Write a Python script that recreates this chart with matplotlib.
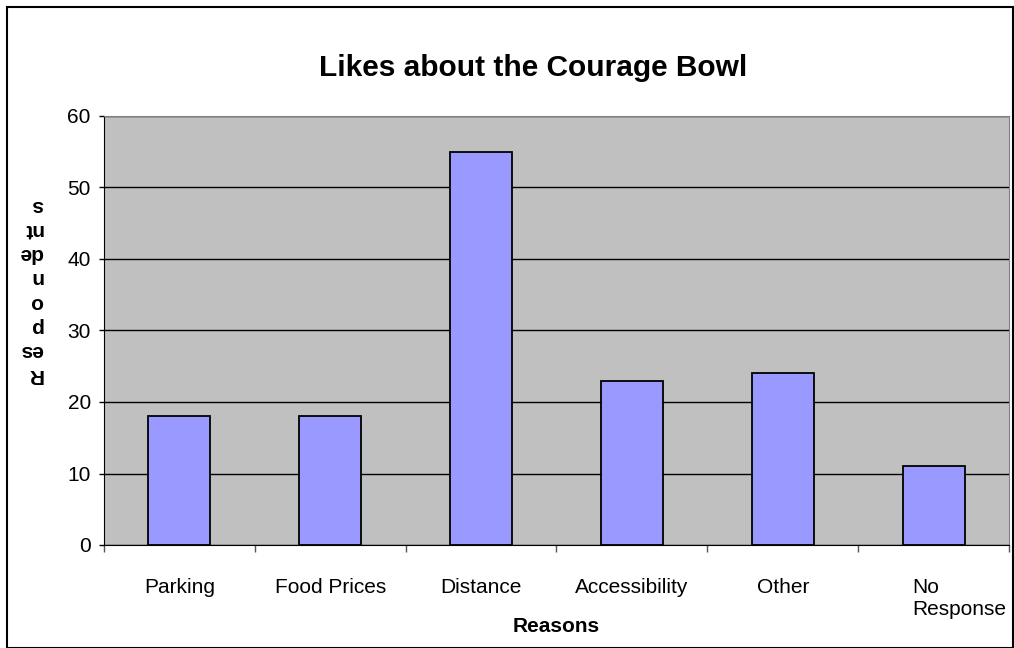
import matplotlib
matplotlib.use("Agg")
import matplotlib.pyplot as plt
from matplotlib.patches import Rectangle
import matplotlib.transforms as mtransforms
import numpy as np

categories = ["Parking", "Food Prices", "Distance", "Accessibility", "Other", "No\nResponse"]
values = [18, 18, 55, 23, 24, 11]
yticks = [0, 10, 20, 30, 40, 50, 60]

plt.rcParams['font.family'] = ['Liberation Sans', 'DejaVu Sans']

fig = plt.figure(figsize=(10.14, 6.48), dpi=100)
ax = fig.add_axes([104/1014, 1-545/648, (1009-104)/1014, (545-116)/648])
ax.set_facecolor('#C0C0C0')

x = np.arange(len(categories))
ax.bar(x, values, width=0.41, color='#9999FF', edgecolor='black', linewidth=1.3, zorder=3)

ax.set_xlim(-0.5, len(categories) - 0.5)
ax.set_ylim(0, 60)
ax.set_yticks(yticks)
ax.yaxis.grid(True, color='black', linewidth=1.0, zorder=1)
ax.set_axisbelow(True)
ax.tick_params(axis='y', direction='out', length=3.5, width=1, labelsize=15, pad=6)

ax.set_xticks(x)
labels = ax.set_xticklabels(categories)
ax.tick_params(axis='x', which='major', length=0, labelsize=15, pad=24)
ax.set_xticks(np.arange(len(categories) + 1) - 0.5, minor=True)
ax.tick_params(axis='x', which='minor', direction='out', length=5, width=1, color='#555555')
last = labels[-1]
last.set_ha('left')
last.set_multialignment('left')
last.set_transform(last.get_transform() + mtransforms.ScaledTranslation(-0.216, 0, fig.dpi_scale_trans))

for s in ['top', 'right']:
    ax.spines[s].set_color('#808080')
for s in ['left', 'bottom']:
    ax.spines[s].set_color('black')

fig.text(556/1014, 1-627/648, "Reasons", fontsize=15, fontweight='bold', ha='center', va='center')
fig.text(43/1014, 1-290/648, "R\nes\np\no\nn\nde\nnt\ns", rotation=180, fontsize=15,
         fontweight='bold', ha='right', va='center', multialignment='left', linespacing=1.35)

fig.text(533/1014, 1-68/648, "Likes about the Courage Bowl", fontsize=21.5, fontweight='bold',
         ha='center', va='center')

fig.patches.append(Rectangle((7/1014, 0), 1 - 7/1014 - 0.0005, 1 - 7/648, transform=fig.transFigure,
                             fill=False, edgecolor='black', linewidth=1.5))

fig.savefig("out.png", dpi=100)
